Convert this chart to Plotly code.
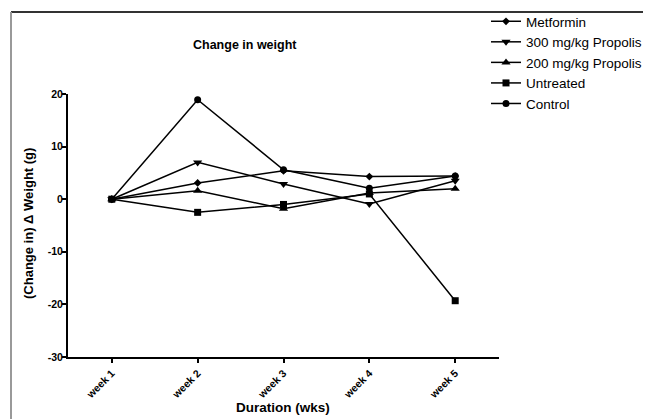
import plotly.graph_objects as go

weeks = ["week 1", "week 2", "week 3", "week 4", "week 5"]
week_pos = [1, 2, 3, 4, 5]
y_ticks = [-30, -20, -10, 0, 10, 20]
y_tick_labels = ["-30", "-20", "-10", "0", "10", "20"]

series_names = ["Metformin", "300 mg/kg Propolis", "200 mg/kg Propolis", "Untreated", "Control"]
metformin = [0, 3.1, 5.4, 4.3, 4.4]
propolis_300 = [0, 7.0, 2.9, -0.9, 3.5]
propolis_200 = [0, 1.6, -1.8, 1.2, 2.0]
untreated = [0, -2.5, -1.0, 1.0, -19.3]
control = [0, 18.9, 5.6, 2.1, 4.4]

values = [metformin, propolis_300, propolis_200, untreated, control]
symbols = ["diamond", "triangle-down", "triangle-up", "square", "circle"]
sizes = [6, 8, 8, 7, 7]

FONT = "Liberation Sans, Arial, sans-serif"

fig = go.Figure()
for name, vals, sym, sz in zip(series_names, values, symbols, sizes):
    fig.add_trace(go.Scatter(
        x=week_pos, y=vals, name=name, mode="lines+markers",
        line=dict(color="black", width=1.5),
        marker=dict(symbol=sym, size=sz, color="black"),
    ))

# page body has an 8px margin: work in window pixels, shift by OFF
OFF = 8
W, H = 651 - OFF, 419 - OFF
L, R, T, B = 68 - OFF, 499 - OFF, 94 - OFF, 357 - OFF

def px_x(p):
    return (p - OFF - L) / (R - L)

def px_y(p):
    return (B - (p - OFF)) / (B - T)

fig.update_layout(
    width=W, height=H,
    margin=dict(l=L, r=W - R, t=T, b=H - B, autoexpand=False),
    paper_bgcolor="white", plot_bgcolor="white",
    font=dict(family=FONT, color="black"),
    showlegend=True,
    legend=dict(
        x=px_x(486), y=px_y(6), xanchor="left", yanchor="top",
        font=dict(family=FONT, size=13.5, color="black"),
        bgcolor="rgba(0,0,0,0)", tracegroupgap=0,
    ),
    xaxis=dict(
        range=[0.49, 5.51], tickmode="array", tickvals=week_pos, ticktext=weeks,
        tickangle=-45, showgrid=False, zeroline=False, automargin=False,
        showline=True, linecolor="black", linewidth=2,
        ticks="outside", ticklen=4, tickwidth=1.5, tickcolor="black",
        tickfont=dict(family=FONT, size=10.5, color="black", weight="bold"),
    ),
    yaxis=dict(
        range=[-30, 20], tickmode="array", tickvals=y_ticks, ticktext=y_tick_labels,
        showgrid=False, zeroline=False, automargin=False,
        showline=True, linecolor="black", linewidth=2,
        ticks="outside", ticklen=4, tickwidth=1.5, tickcolor="black",
        ticklabelstandoff=-3,
        tickfont=dict(family=FONT, size=10.5, color="black", weight="bold"),
    ),
    annotations=[
        dict(text="<b>Change in weight</b>", xref="paper", yref="paper",
             x=px_x(245), y=px_y(45), showarrow=False,
             xanchor="center", yanchor="middle",
             font=dict(family=FONT, size=12.5, color="black")),
        dict(text="<b>(Change in) Δ Weight (g)</b>", xref="paper", yref="paper",
             x=px_x(28), y=px_y(224), showarrow=False, textangle=-90,
             xanchor="center", yanchor="middle",
             font=dict(family=FONT, size=13, color="black")),
        dict(text="<b>Duration (wks)</b>", xref="paper", yref="paper",
             x=px_x(283), y=px_y(407), showarrow=False,
             xanchor="center", yanchor="middle",
             font=dict(family=FONT, size=13.5, color="black")),
    ],
    shapes=[
        dict(type="line", xref="paper", yref="paper",
             x0=px_x(11), x1=px_x(651 + 5), y0=px_y(12), y1=px_y(12),
             line=dict(color="#333333", width=2)),
        dict(type="line", xref="paper", yref="paper",
             x0=px_x(11), x1=px_x(11), y0=px_y(12), y1=px_y(419 + 5),
             line=dict(color="#999999", width=2)),
    ],
)

fig.write_html("out.html")
